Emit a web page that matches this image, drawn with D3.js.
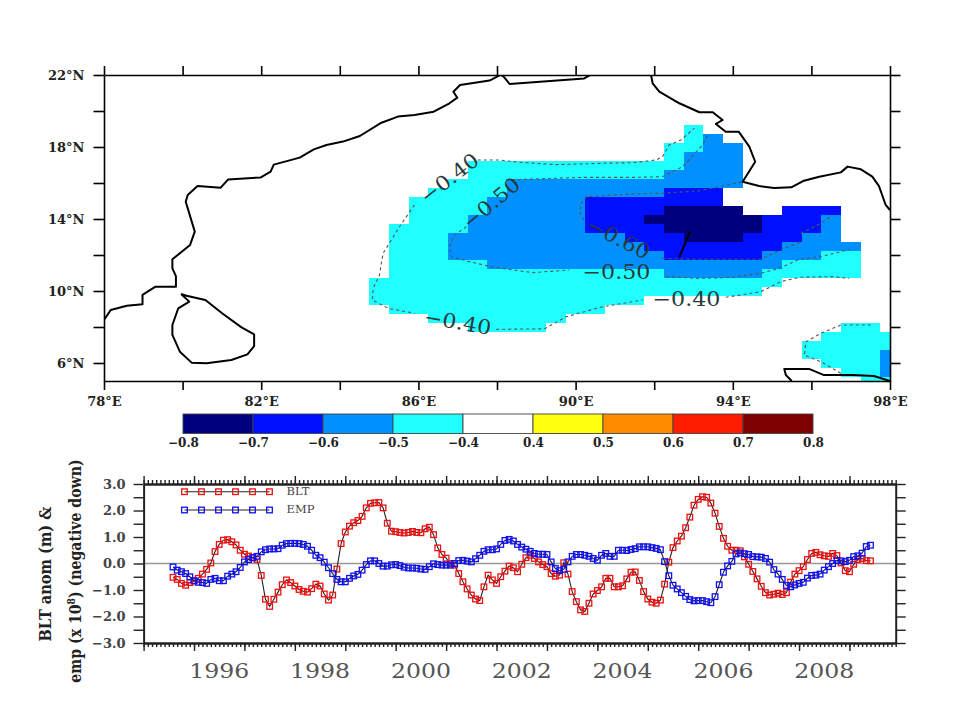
<!DOCTYPE html>
<html>
<head>
<meta charset="utf-8">
<script src="https://cdn.jsdelivr.net/npm/d3@7"></script>
<style>
    html, body { margin: 0; padding: 0; background: white; }
    text { font-family: "DejaVu Serif", serif; }
</style>
</head>
<body>
<svg id="vis"></svg>
<script>
const svg = d3.select("#vis").attr("width", 960).attr("height", 720);

// map anomaly cells: [lat, lon west edge, lon east edge]
const cellsMinus04 = [
    [19, 92.75, 93.25], [18.5, 92.75, 93.25], [18, 92.25, 93.25], [17.5, 92.25, 93.25],
    [17, 87.25, 92.75], [16.5, 87.25, 92.25], [16, 86.75, 88.25], [15.5, 86.25, 88.25],
    [15, 85.75, 87.75], [14.5, 85.75, 87.75], [14, 85.75, 87.25], [13.5, 85.25, 87.25],
    [13, 85.25, 86.75], [12.5, 85.25, 86.75], [12, 85.25, 97.25], [11.5, 85.25, 97.25],
    [11, 85.25, 97.25], [10.5, 84.75, 95.25], [10, 84.75, 94.75], [9.5, 84.75, 91.75],
    [9, 85.25, 90.75], [8.5, 86.25, 89.75], [8, 87.25, 89.25],
    [8, 96.75, 97.75], [7.5, 96.25, 98], [7, 95.75, 98], [6.5, 95.75, 98],
    [6, 96.25, 98], [5.5, 96.75, 98], [5, 97.25, 98],
];
const cellsMinus05 = [
    [18.5, 93.25, 93.75], [18, 93.25, 94.25], [17.5, 92.75, 94.25], [17, 92.75, 94.25],
    [16.5, 92.25, 94.25], [16, 88.25, 94.25], [15.5, 88.25, 93.75], [15, 87.75, 93.75],
    [14.5, 87.75, 94.25], [14.5, 95.25, 96.75], [14, 87.25, 96.75], [13.5, 87.25, 96.75],
    [13, 86.75, 96.75], [12.5, 86.75, 97.25], [12, 86.75, 96.25], [11.5, 87.75, 95.25],
    [11, 92.25, 94.75], [6.5, 97.75, 98], [6, 97.75, 98], [5.5, 97.75, 98],
];
const cellsMinus06 = [
    [15.5, 92.25, 93.75], [15, 90.25, 93.75], [14.5, 90.25, 94.25], [14.5, 95.25, 96.75],
    [14, 90.25, 96.25], [13.5, 90.25, 96.25], [13, 91.25, 95.75], [12.5, 91.75, 95.25],
    [12, 92.25, 94.75],
];
const cellsMinus07 = [
    [14.5, 92.25, 94.25], [14, 91.75, 94.75], [13.5, 92.25, 94.75], [13, 92.75, 94.25],
];

// coastlines as [lon, lat]
const coastIndia = [
    [78, 8.39], [78.17, 8.94], [78.58, 9.18], [78.98, 9.26], [78.98, 9.78], [79.31, 10.24],
    [79.83, 10.24], [79.83, 10.83], [79.74, 11.26], [79.74, 11.76], [80.19, 12.56], [80.31, 13.3],
    [80.08, 14.96], [80.13, 15.33], [80.38, 15.83], [80.97, 15.74], [81.16, 16.2], [81.99, 16.31],
    [82.24, 16.63], [82.32, 17.02], [82.98, 17.41], [83.34, 17.87], [83.66, 18.11], [84.08, 18.3],
    [84.51, 18.61], [85.06, 19.35], [85.48, 19.69], [85.9, 19.78], [86.39, 19.96], [86.79, 20.43],
    [86.99, 20.74], [86.89, 21.07], [87.06, 21.44], [87.81, 21.69], [88.1, 22.02],
    [88.17, 21.91], [88.32, 21.5], [90.22, 21.81], [90.39, 22.02],
];
const coastBurma = [
    [91.92, 22], [91.96, 21.54], [92.13, 21.07], [92.64, 20.43], [93.15, 19.93], [93.49, 19.93],
    [93.74, 19.5], [93.57, 19.28], [93.82, 18.85], [94.15, 18.85], [94.42, 18.02], [94.57, 17.18],
    [94.25, 16.07], [94.67, 15.83], [95.05, 15.72], [95.49, 15.76], [95.81, 16.13], [96.2, 16.35],
    [96.75, 16.59], [96.92, 16.91], [97.26, 16.76], [97.55, 16.35], [97.72, 15.83], [97.89, 14.78],
    [98, 14.5],
];
const coastSumatra = [
    [95.5, 5], [95.35, 5.33], [95.31, 5.67], [95.94, 5.67], [96.32, 5.33], [97.04, 5.33],
    [97.59, 5.28], [98, 5],
];
const coastLanka = [
    [79.96, 9.83], [80.17, 9.41], [79.89, 9.04], [79.74, 8.11], [79.74, 7.56], [79.93, 6.63],
    [80.23, 6.02], [80.61, 5.98], [81.24, 6.17], [81.65, 6.48], [81.82, 6.94], [81.82, 7.59],
    [81.5, 7.98], [81.03, 8.72], [80.58, 9.5], [80.1, 9.74], [79.96, 9.83],
];

// dashed contours as [lon, lat]
const contourUpper04 = [
    [87.51, 17.28], [88.06, 17.28], [88.57, 17.15], [89.5, 17.02], [90.6, 17.09], [91.45, 17.13],
    [92.05, 17.28], [92.21, 17.46], [92.38, 18.11], [92.68, 18.39], [93.02, 19.04],
];
const contourLeft04 = [
    [85.9, 14.78], [85.52, 13.57], [85.1, 12.09], [85.01, 10.89], [84.85, 10.15], [84.83, 9.5],
    [85.23, 9.04], [85.9, 8.76],
];
const contourLower04 = [
    [87.98, 7.87], [89.21, 7.9], [89.76, 8.57], [90.69, 9.13], [91.71, 9.5],
];
const contourRight04 = [
    [93.82, 9.65], [94.71, 9.96], [95.22, 10.52], [95.69, 10.76], [96.54, 10.8], [96.96, 10.7],
];
const contourPatch04 = [
    [97.51, 8.11], [96.75, 8.11], [96.24, 7.65], [95.86, 7.18], [95.82, 6.44], [96.24, 6.07], [96.75, 5.43],
];
const contourUpper05 = [
    [88.23, 16.17], [90.18, 16.31], [91.45, 16.31], [92.21, 16.35], [92.72, 16.9], [93.23, 18.11], [93.36, 18.67],
];
const contourLeft05 = [
    [87.22, 13.57], [86.92, 13.11], [86.79, 12.46], [86.84, 11.9], [87.3, 11.63], [87.89, 11.33],
    [88.91, 11.02], [89.84, 11.17],
];
const contourLower05 = [
    [92.3, 10.8], [93.15, 10.7], [93.99, 10.76], [94.71, 10.98], [95.18, 11.26], [95.69, 11.76],
    [96.24, 11.9], [96.96, 12.31],
];
const contourSide05 = [[95.73, 13.2], [96.24, 13.76], [96.54, 14.22]];
const contourUpper06 = [
    [90.22, 13.94], [90.11, 14.31], [90.14, 14.87], [90.27, 15.24], [91.45, 15.39], [92.21, 15.43],
    [93.15, 15.57], [94.25, 16.07],
];
const contourLower06 = [
    [92.21, 11.81], [93.15, 11.76], [94.71, 11.76], [95.22, 12.28], [95.73, 12.74],
];
const contourSolid07 = [[92.64, 11.87], [92.91, 13.3]];

// contour labels: [text, lon, lat, rotation]
const contourLabels = [
    ["\u22120.40", 86.79, 16.28, -38],
    ["\u22120.50", 87.85, 14.89, -40],
    ["\u22120.40", 87, 8.28, 10],
    ["\u22120.60", 91.09, 12.94, 27],
    ["\u22120.50", 91.04, 11.06, 0],
    ["\u22120.40", 92.82, 9.56, 0],
];

const colorbarLabels = ["\u22120.8", "\u22120.7", "\u22120.6", "\u22120.5", "\u22120.4", "0.4", "0.5", "0.6", "0.7", "0.8"];
const colorbarColors = ["#00007f", "#0010ff", "#0090ff", "#20ffff", "#ffffff", "#ffff10", "#ff8c00", "#ff1c00", "#7f0000"];

const lonTicks = d3.range(78, 99, 2);
const latTicks = d3.range(6, 23, 2);

// time series, one value a month, month 0 is Jan 1995
const firstMonth = 7;
const bltValues = [
    -0.52, -0.60, -0.75, -0.82, -0.72,
    -0.66, -0.56, -0.40, -0.22, 0.02, 0.45, 0.72, 0.88, 0.90, 0.82, 0.70, 0.50,
    0.35, 0.28, 0.22, 0.15, -0.45, -1.35, -1.62, -1.35, -1.08, -0.80, -0.62, -0.72,
    -0.85, -0.98, -1.05, -1.08, -0.95, -0.78, -0.85, -1.15, -1.38, -1.19, -0.21, 0.75,
    1.19, 1.41, 1.54, 1.62, 1.78, 2.10, 2.27, 2.29, 2.30, 2.10, 1.52, 1.22,
    1.20, 1.17, 1.15, 1.17, 1.21, 1.17, 1.16, 1.31, 1.37, 1.09, 0.59, 0.34,
    0.20, 0.00, -0.06, -0.38, -0.69, -0.96, -1.19, -1.34, -1.40, -0.88, -0.44, -0.62,
    -0.75, -0.50, -0.29, -0.10, -0.16, -0.31, -0.03, 0.22, 0.31, 0.19, 0.06, -0.04,
    -0.12, -0.38, -0.48, -0.44, 0.03, -0.40, -1.06, -1.44, -1.75, -1.81, -1.50, -1.15,
    -1.02, -0.88, -0.56, -0.56, -0.88, -0.88, -0.84, -0.58, -0.33, -0.32, -0.64, -1.06,
    -1.34, -1.46, -1.50, -1.38, -0.78, 0.05, 0.60, 0.85, 1.03, 1.35, 1.75, 2.20,
    2.42, 2.52, 2.50, 2.28, 1.90, 1.40, 0.95, 0.65, 0.50, 0.50, 0.48, 0.25,
    -0.03, -0.30, -0.58, -0.86, -1.10, -1.19, -1.16, -1.12, -1.17, -1.10, -0.70, -0.40,
    -0.27, -0.12, 0.15, 0.38, 0.42, 0.33, 0.29, 0.27, 0.38, 0.30, 0.02, -0.27,
    -0.31, -0.03, 0.15, 0.19, 0.11, 0.10,
];
const empValues = [
    -0.13, -0.25, -0.31, -0.38, -0.50,
    -0.65, -0.71, -0.72, -0.75, -0.60, -0.56, -0.65, -0.65, -0.48, -0.40, -0.31, -0.15,
    0.06, 0.15, 0.22, 0.27, 0.44, 0.52, 0.55, 0.55, 0.56, 0.69, 0.75, 0.76,
    0.76, 0.75, 0.72, 0.65, 0.50, 0.31, 0.22, 0.05, -0.16, -0.38, -0.60, -0.69,
    -0.69, -0.56, -0.47, -0.41, -0.25, -0.04, 0.10, 0.10, 0.00, -0.10, -0.10, -0.05,
    -0.04, -0.08, -0.14, -0.17, -0.17, -0.18, -0.21, -0.22, -0.12, -0.01, -0.04, -0.06,
    -0.06, -0.06, 0.00, 0.11, 0.12, 0.09, 0.06, 0.18, 0.31, 0.46, 0.52, 0.52,
    0.55, 0.72, 0.87, 0.91, 0.85, 0.72, 0.62, 0.54, 0.46, 0.38, 0.35, 0.35,
    0.34, 0.06, -0.19, -0.27, -0.22, 0.06, 0.27, 0.34, 0.34, 0.31, 0.27, 0.19,
    0.12, 0.31, 0.38, 0.27, 0.27, 0.50, 0.50, 0.49, 0.53, 0.56, 0.63, 0.63,
    0.63, 0.60, 0.57, 0.52, 0.07, -0.46, -0.82, -0.96, -1.10, -1.24, -1.36, -1.41,
    -1.40, -1.40, -1.44, -1.48, -1.25, -0.80, -0.33, -0.09, 0.08, 0.36, 0.40, 0.37,
    0.34, 0.26, 0.25, 0.24, 0.19, 0.05, -0.23, -0.40, -0.60, -0.83, -0.88, -0.81,
    -0.75, -0.71, -0.55, -0.45, -0.44, -0.40, -0.25, -0.12, 0.00, 0.11, 0.10, 0.07,
    0.12, 0.26, 0.29, 0.39, 0.64, 0.69,
];
const yearLabels = [1996, 1998, 2000, 2002, 2004, 2006, 2008];
const valueTicks = d3.range(-3, 3.5, 0.5);
const legendNames = ["BLT", "EMP"];
const legendColors = ["#f01010", "#1010f0"];

const lonScale = d3.scaleLinear().domain([78, 98]).range([104, 890]);
const latScale = d3.scaleLinear().domain([5, 22]).range([381, 75]);
const monthScale = d3.scaleLinear().domain([0, 179]).range([143.6, 895.7]);
const valueScale = d3.scaleLinear().domain([-3, 3]).range([643, 484]);
const colorbarScale = d3.scalePoint().domain(colorbarLabels).range([183, 813]);

const CELL_HALF = 0.25;
const SQUARE = 5.6;


function main() {
    drawMap();
    drawColorbar();
    drawSeriesPanel();
}


function drawCells(group, rows, color) {
    group.selectAll(null).data(rows).join("rect")
        .attr("x", d => lonScale(d[1]))
        .attr("y", d => latScale(d[0] + CELL_HALF))
        .attr("width", d => lonScale(d[2]) - lonScale(d[1]))
        .attr("height", d => latScale(d[0] - CELL_HALF) - latScale(d[0] + CELL_HALF))
        .attr("fill", color)
        .attr("shape-rendering", "crispEdges");
}


function drawMap() {
    svg.append("clipPath").attr("id", "mapClip").append("rect")
        .attr("x", lonScale(78)).attr("y", latScale(22))
        .attr("width", lonScale(98) - lonScale(78))
        .attr("height", latScale(5) - latScale(22));

    const cells = svg.append("g").attr("clip-path", "url(#mapClip)");
    drawCells(cells, cellsMinus04, colorbarColors[3]);
    drawCells(cells, cellsMinus05, colorbarColors[2]);
    drawCells(cells, cellsMinus06, colorbarColors[1]);
    drawCells(cells, cellsMinus07, colorbarColors[0]);

    const line = d3.line().x(d => lonScale(d[0])).y(d => latScale(d[1]));
    const dashed = [contourUpper04, contourLeft04, contourLower04, contourRight04, contourPatch04,
        contourUpper05, contourLeft05, contourLower05, contourSide05, contourUpper06, contourLower06];
    cells.selectAll(null).data(dashed).join("path")
        .attr("d", line)
        .attr("fill", "none")
        .attr("stroke", "#555")
        .attr("stroke-width", 1.1)
        .attr("stroke-dasharray", "3,3");
    cells.append("path").attr("d", line(contourSolid07))
        .attr("fill", "none").attr("stroke", "black").attr("stroke-width", 2);

    // labels are stretched sideways in the original, so force their width
    cells.selectAll(null).data(contourLabels).join("text")
        .attr("transform", d => `translate(${lonScale(d[1])},${latScale(d[2])}) rotate(${d[3]})`)
        .attr("text-anchor", "middle")
        .attr("dy", "0.36em")
        .attr("font-size", 20)
        .attr("textLength", 68)
        .attr("lengthAdjust", "spacingAndGlyphs")
        .attr("fill", "#2a3a3a")
        .text(d => d[0]);

    cells.selectAll(null).data([coastIndia, coastBurma, coastSumatra, coastLanka]).join("path")
        .attr("d", line)
        .attr("fill", "none")
        .attr("stroke", "black")
        .attr("stroke-width", 2)
        .attr("stroke-linejoin", "round");

    const lonLabel = d => (d - 78) % 4 === 0 ? d + "\u00b0E" : "";
    const latLabel = d => (22 - d) % 4 === 0 ? d + "\u00b0N" : "";
    const axes = [
        [d3.axisBottom(lonScale).tickValues(lonTicks).tickSize(9).tickPadding(7).tickFormat(lonLabel), 0, 381],
        [d3.axisTop(lonScale).tickValues(lonTicks).tickSize(9).tickFormat(""), 0, 75],
        [d3.axisLeft(latScale).tickValues(latTicks).tickSize(10.5).tickPadding(9).tickFormat(latLabel), 104, 0],
        [d3.axisRight(latScale).tickValues(latTicks).tickSize(10.5).tickFormat(""), 890, 0],
    ];
    axes.forEach(a => {
        const g = svg.append("g")
            .attr("transform", `translate(${a[1]},${a[2]})`)
            .call(a[0].tickSizeOuter(0));
        g.selectAll("path, line").attr("stroke", "black").attr("stroke-width", 1.6);
        g.selectAll("text").attr("font-size", 13).attr("font-weight", "bold")
            .attr("font-family", "DejaVu Serif").attr("fill", "#222");
    });
}


function drawColorbar() {
    const step = colorbarScale.step();
    svg.selectAll(".colorCell").data(colorbarColors).join("rect")
        .attr("class", "colorCell")
        .attr("x", (d, i) => colorbarScale(colorbarLabels[i]))
        .attr("y", 414)
        .attr("width", step)
        .attr("height", 19.5)
        .attr("fill", d => d)
        .attr("stroke", "#444")
        .attr("stroke-width", 0.9);

    const g = svg.append("g")
        .attr("transform", "translate(0,433.5)")
        .call(d3.axisBottom(colorbarScale).tickSize(0).tickPadding(5));
    g.select("path").remove();
    g.selectAll("text").attr("font-size", 12).attr("font-weight", "bold")
        .attr("font-family", "DejaVu Serif").attr("fill", "#222");
}


function drawSeries(values, color) {
    const line = d3.line()
        .x((d, i) => monthScale(firstMonth + i))
        .y(d => valueScale(d));
    const g = svg.append("g");
    g.append("path").attr("d", line(values))
        .attr("fill", "none").attr("stroke", "#222").attr("stroke-width", 1.1);
    g.selectAll("rect").data(values).join("rect")
        .attr("x", (d, i) => monthScale(firstMonth + i) - SQUARE / 2)
        .attr("y", d => valueScale(d) - SQUARE / 2)
        .attr("width", SQUARE)
        .attr("height", SQUARE)
        .attr("fill", "none")
        .attr("stroke", color)
        .attr("stroke-width", 1.3);
}


function drawLegendRow(name, color, y) {
    const xs = d3.scaleLinear().domain([0, 5]).range([184.5, 269.5]);
    const g = svg.append("g");
    g.append("line").attr("x1", xs(0)).attr("x2", xs(5)).attr("y1", y).attr("y2", y)
        .attr("stroke", "#222").attr("stroke-width", 1.1);
    g.selectAll("rect").data(d3.range(6)).join("rect")
        .attr("x", d => xs(d) - SQUARE / 2)
        .attr("y", y - SQUARE / 2)
        .attr("width", SQUARE)
        .attr("height", SQUARE)
        .attr("fill", "none")
        .attr("stroke", color)
        .attr("stroke-width", 1.3);
    g.append("text").attr("x", 286.5).attr("y", y - 1).attr("dy", "0.36em")
        .attr("font-size", 11.5).attr("fill", "#444").text(name);
}


function drawSeriesPanel() {
    // zero reference line
    svg.append("line")
        .attr("x1", monthScale(0)).attr("x2", monthScale(179))
        .attr("y1", valueScale(0)).attr("y2", valueScale(0))
        .attr("stroke", "#999").attr("stroke-width", 1.4);

    drawSeries(bltValues, legendColors[0]);
    drawSeries(empValues, legendColors[1]);
    drawLegendRow(legendNames[0], legendColors[0], 491.7);
    drawLegendRow(legendNames[1], legendColors[1], 510);

    const months = d3.range(0, 180);
    const years = months.filter(d => d % 12 === 0);
    const axes = [
        [d3.axisBottom(monthScale).tickValues(months).tickSize(4).tickFormat(""), 0, 643],
        [d3.axisTop(monthScale).tickValues(months).tickSize(4).tickFormat(""), 0, 484],
        [d3.axisBottom(monthScale).tickValues(years).tickSize(8).tickFormat(""), 0, 643],
        [d3.axisTop(monthScale).tickValues(years).tickSize(8).tickFormat(""), 0, 484],
        [d3.axisLeft(valueScale).tickValues(valueTicks).tickSize(10).tickPadding(8)
            .tickFormat(d => Number.isInteger(d) ? d3.format(".1f")(d).replace("-", "\u2212") : ""), 143.6, 0],
        [d3.axisRight(valueScale).tickValues(valueTicks).tickSize(10).tickFormat(""), 895.7, 0],
    ];
    axes.forEach(a => {
        const g = svg.append("g")
            .attr("transform", `translate(${a[1]},${a[2]})`)
            .call(a[0].tickSizeOuter(0));
        g.selectAll("path, line").attr("stroke", "#222").attr("stroke-width", 1.4);
        g.select("path").attr("stroke-width", 2);
        g.selectAll("text").attr("font-size", 13).attr("font-weight", "bold")
            .attr("font-family", "DejaVu Serif").attr("fill", "#444");
    });

    // year labels sit at mid year in the original
    svg.selectAll(".yearLabel").data(yearLabels).join("text")
        .attr("class", "yearLabel")
        .attr("x", d => monthScale((d - 1995) * 12 + 6))
        .attr("y", 678)
        .attr("text-anchor", "middle")
        .attr("font-size", 21)
        .attr("textLength", 60)
        .attr("lengthAdjust", "spacingAndGlyphs")
        .attr("fill", "#555")
        .text(d => d);

    svg.append("text")
        .attr("transform", "translate(51,574) rotate(-90)")
        .attr("text-anchor", "middle")
        .attr("font-size", 17)
        .attr("font-weight", "bold")
        .attr("textLength", 135)
        .attr("lengthAdjust", "spacingAndGlyphs")
        .attr("fill", "#222")
        .text("BLT anom (m) &");

    const second = svg.append("text")
        .attr("transform", "translate(81,571) rotate(-90) scale(0.83,1)")
        .attr("text-anchor", "middle")
        .attr("font-size", 17)
        .attr("font-weight", "bold")
        .attr("fill", "#222");
    second.append("tspan").text("emp (x 10");
    second.append("tspan").attr("dy", -6).attr("font-size", 11).text("8");
    second.append("tspan").attr("dy", 6).text(") (negative down)");
}


main();
</script>
</body>
</html>
